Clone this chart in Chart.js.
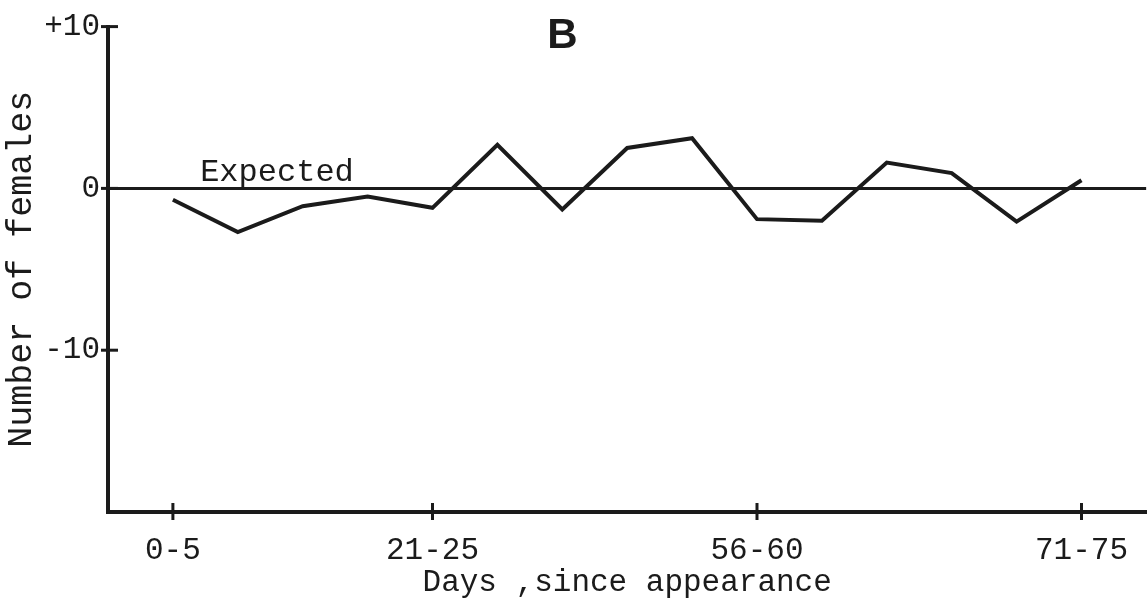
<!DOCTYPE html>
<html>
<head>
<meta charset="utf-8">
<script src="https://cdn.jsdelivr.net/npm/chart.js@4/dist/chart.umd.min.js"></script>
<style>
  html, body { margin: 0; padding: 0; background: #fff; }
  #c { display: block; }
</style>
</head>
<body>
<canvas id="c" width="1148" height="601"></canvas>
<script>
// The data: deviation from expected number of females, 15 five-day bins
var females = [-0.7, -2.7, -1.1, -0.5, -1.2, 2.7, -1.3, 2.5, 3.1, -1.9, -2.0, 1.6, 0.95, -2.05, 0.5];
var expected = [0, 0];
var tickBins = [0, 4, 9, 14];
var tickLabels = ['0-5', '21-25', '56-60', '71-75'];
var yTicks = [10, 0, -10];

var ink = '#1b1b1b';
var mono = "'Courier New', 'Liberation Mono', monospace";
var font = { family: mono, size: 31 };

// crossing tick marks, the "B" and the "Expected" label
var extras = {
  id: 'extras',
  afterDraw: function (chart) {
    var ctx = chart.ctx, x = chart.scales.x, y = chart.scales.y, area = chart.chartArea;
    ctx.save();
    ctx.strokeStyle = ink;
    ctx.lineWidth = 3;
    y.ticks.forEach(function (t) {
      var py = y.getPixelForValue(t.value);
      ctx.beginPath();
      ctx.moveTo(area.left - 7, py);
      ctx.lineTo(area.left + 10, py);
      ctx.stroke();
    });
    x.ticks.forEach(function (t) {
      var px = x.getPixelForValue(t.value);
      ctx.beginPath();
      ctx.moveTo(px, area.bottom - 9);
      ctx.lineTo(px, area.bottom + 8);
      ctx.stroke();
    });

    ctx.fillStyle = ink;
    ctx.font = "32px " + mono;
    ctx.textAlign = 'left';
    ctx.textBaseline = 'alphabetic';
    ctx.fillText('Expected', x.getPixelForValue(0.42), y.getPixelForValue(0) - 7);

    ctx.font = "bold 42px 'Liberation Sans', sans-serif";
    ctx.textAlign = 'center';
    ctx.textBaseline = 'middle';
    ctx.fillText('B', x.getPixelForValue(6.0), area.top + 10);
    ctx.restore();
  }
};

new Chart(document.getElementById('c'), {
  type: 'line',
  data: {
    datasets: [{
      label: 'Females',
      data: females.map(function (v, i) { return { x: i, y: v }; }),
      borderColor: ink,
      borderWidth: 4,
      pointRadius: 0,
      tension: 0,
      fill: false
    }, {
      label: 'Expected',
      data: [{ x: -1, y: expected[0] }, { x: 15, y: expected[1] }],
      borderColor: ink,
      borderWidth: 3,
      pointRadius: 0,
      fill: false
    }]
  },
  options: {
    responsive: false,
    animation: false,
    layout: { padding: { top: 23, right: 0, bottom: 0, left: 0 } },
    plugins: {
      legend: { display: false },
      tooltip: { enabled: false }
    },
    scales: {
      x: {
        type: 'linear',
        min: -1,
        max: 15,
        afterBuildTicks: function (s) { s.ticks = tickBins.map(function (v) { return { value: v }; }); },
        afterFit: function (s) { s.height = 89; },
        ticks: {
          callback: function (v) { return tickLabels[tickBins.indexOf(v)]; },
          font: font,
          color: ink,
          padding: 20,
          maxRotation: 0,
          autoSkip: false
        },
        grid: { drawOnChartArea: false, drawTicks: false },
        border: { width: 4, color: ink },
        title: {
          display: true,
          text: 'Days ,since appearance',
          font: font,
          color: ink,
          padding: { top: 0, bottom: 0 }
        }
      },
      y: {
        min: -20,
        max: 10,
        afterBuildTicks: function (s) { s.ticks = yTicks.map(function (v) { return { value: v }; }); },
        afterFit: function (s) { s.width = 108; },
        ticks: {
          callback: function (v) { return v > 0 ? '+' + v : '' + v; },
          font: font,
          color: ink,
          padding: 8
        },
        grid: { drawOnChartArea: false, drawTicks: false },
        border: { width: 4, color: ink },
        title: {
          display: true,
          text: 'Number of females',
          font: { family: mono, size: 35 },
          color: ink,
          padding: { top: 1, bottom: 0 }
        }
      }
    }
  },
  plugins: [extras]
});
</script>
</body>
</html>
